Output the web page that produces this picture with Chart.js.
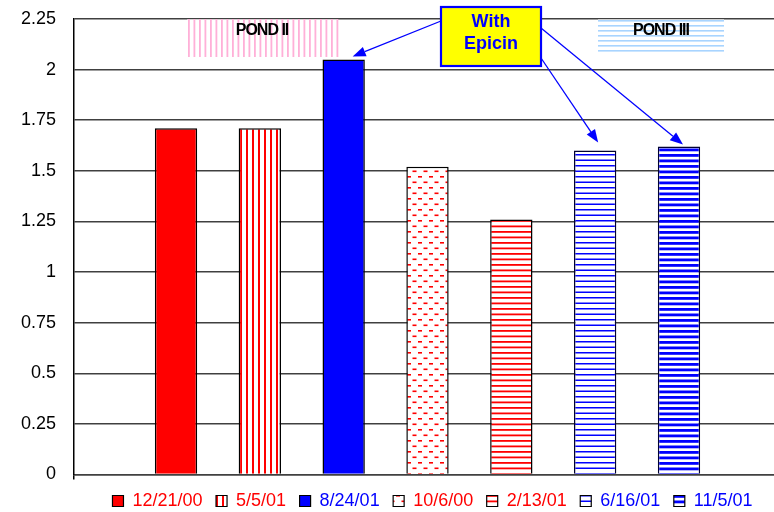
<!DOCTYPE html>
<html>
<head>
<meta charset="utf-8">
<script src="https://cdn.jsdelivr.net/npm/chart.js@4/dist/chart.umd.min.js"></script>
<style>
  html, body { margin: 0; padding: 0; background: #fff; overflow: hidden; }
  #wrap { width: 774px; height: 512px; overflow: hidden; }
  canvas { display: block; }
</style>
</head>
<body>
<div id="wrap"><canvas id="c" width="790" height="512"></canvas></div>
<script>
// Sampling dates (one bar each) and the measured values
const dates = ['12/21/00', '5/5/01', '8/24/01', '10/6/00', '2/13/01', '6/16/01', '11/5/01'];
const values = [1.71, 1.71, 2.05, 1.52, 1.26, 1.60, 1.62];
const yTicks = [0, 0.25, 0.5, 0.75, 1, 1.25, 1.5, 1.75, 2, 2.25];
const yTickLabels = ['0', '0.25', '0.5', '0.75', '1', '1.25', '1.5', '1.75', '2', '2.25'];
const epicinBars = [2, 5, 6];

const canvas = document.getElementById('c');
const ctx = canvas.getContext('2d');
const FONT = '"Liberation Sans", Arial, sans-serif';

function tile(w, h, draw) {
  const c = document.createElement('canvas');
  c.width = w; c.height = h;
  const g = c.getContext('2d');
  g.fillStyle = '#fff';
  g.fillRect(0, 0, w, h);
  draw(g);
  return ctx.createPattern(c, 'repeat');
}

const RED = '#ff0000', BLUE = '#0000ff';
const fills = [
  RED,
  tile(6, 4, g => { g.fillStyle = RED; g.fillRect(0, 0, 2, 4); }),
  BLUE,
  tile(11, 11, g => { g.fillStyle = RED; g.fillRect(0, 0, 4, 1.6); g.fillRect(5.5, 5.5, 4, 1.6); }),
  tile(4, 11, g => { g.fillStyle = RED; g.fillRect(0, 0, 4, 1.8); g.fillRect(0, 5.5, 4, 1.8); }),
  tile(4, 11, g => { g.fillStyle = BLUE; g.fillRect(0, 0, 4, 1.5); g.fillRect(0, 5.5, 4, 1.5); }),
  tile(4, 11, g => { g.fillStyle = BLUE; g.fillRect(0, 0, 4, 2.8); g.fillRect(0, 5.5, 4, 2.8); })
];
const textColors = [RED, RED, BLUE, RED, RED, BLUE, BLUE];
const borders = ['#000', '#000', '#000', '#000', '#000', '#000033', '#000033'];

function stripedBox(c, b) {
  c.save();
  c.fillStyle = 'rgba(255,255,255,0.55)';
  c.fillRect(b.left, b.top, b.right - b.left, b.bottom - b.top);
  c.fillStyle = b.stripe;
  if (b.vertical) {
    for (let x = b.left + 1; x < b.right; x += 5.5) c.fillRect(x, b.top, 1.8, b.bottom - b.top);
  } else {
    for (let y = b.top + 1; y < b.bottom; y += 5) c.fillRect(b.left, y, b.right - b.left, 1.6);
  }
  c.fillStyle = '#000';
  c.font = 'bold 16px ' + FONT;
  c.letterSpacing = '-1px';
  c.textAlign = 'center';
  c.textBaseline = 'middle';
  c.fillText(b.text, b.tx, b.ty);
  c.restore();
}

function arrow(c, x1, y1, x2, y2) {
  const a = Math.atan2(y2 - y1, x2 - x1);
  const len = 13, half = 5;
  const bx = x2 - len * Math.cos(a), by = y2 - len * Math.sin(a);
  c.beginPath();
  c.moveTo(x1, y1);
  c.lineTo(bx, by);
  c.stroke();
  c.beginPath();
  c.moveTo(x2, y2);
  c.lineTo(bx + half * Math.sin(a), by - half * Math.cos(a));
  c.lineTo(bx - half * Math.sin(a), by + half * Math.cos(a));
  c.closePath();
  c.fill();
}

const notesPlugin = {
  id: 'notes',
  afterDatasetsDraw(chart, args, opts) {
    const c = chart.ctx;
    opts.ponds.forEach(p => stripedBox(c, p));
    const e = opts.epicin;
    c.save();
    c.strokeStyle = BLUE;
    c.fillStyle = BLUE;
    c.lineWidth = 1.3;
    e.arrows.forEach(ar => {
      const bar = chart.getDatasetMeta(ar.bar).data[0];
      arrow(c, ar.fromX, ar.fromY, bar.x + ar.dx, bar.y + ar.dy);
    });
    c.fillStyle = '#ffff00';
    c.fillRect(e.left, e.top, e.right - e.left, e.bottom - e.top);
    c.lineWidth = 2.2;
    c.strokeRect(e.left, e.top, e.right - e.left, e.bottom - e.top);
    c.fillStyle = BLUE;
    c.font = 'bold 18px ' + FONT;
    c.textAlign = 'center';
    c.textBaseline = 'middle';
    const cx = (e.left + e.right) / 2;
    c.fillText('With', cx, e.top + 15);
    c.fillText('Epicin', cx, e.top + 37.5);
    c.restore();
  }
};

const legendShift = {
  id: 'legendShift',
  afterLayout(chart) {
    chart.legend.left += 5;
    chart.legend.right += 5;
  }
};

new Chart(ctx, {
  type: 'bar',
  data: {
    labels: [''],
    datasets: dates.map((d, i) => ({
      label: d,
      data: [values[i]],
      backgroundColor: fills[i],
      borderColor: borders[i],
      borderWidth: 1.5,
      borderSkipped: 'start'
    }))
  },
  options: {
    responsive: false,
    animation: false,
    devicePixelRatio: 1,
    categoryPercentage: 0.83,
    barPercentage: 0.505,
    layout: { padding: { left: 0, right: 9, top: 19, bottom: -8 } },
    scales: {
      x: {
        afterFit(scale) { scale.height = 4; },
        ticks: { display: false },
        grid: { drawOnChartArea: false, drawTicks: true, tickLength: 5, color: '#000', lineWidth: 1.5 },
        border: { display: true, color: '#404040', width: 1.5 }
      },
      y: {
        min: 0,
        max: 2.25,
        afterBuildTicks(scale) { scale.ticks = yTicks.map(v => ({ value: v })); },
        afterFit(scale) {
          scale.width = 74;
          scale.paddingTop = 0;
          scale.paddingBottom = 0;
        },
        ticks: {
          padding: 18,
          color: '#000',
          font: { family: FONT, size: 18 },
          callback: (v) => yTickLabels[yTicks.indexOf(v)]
        },
        grid: { color: '#404040', lineWidth: 1.5, drawTicks: false },
        border: { display: true, color: '#000', width: 1.5 }
      }
    },
    plugins: {
      tooltip: { enabled: false },
      legend: {
        position: 'bottom',
        fullSize: false,
        labels: {
          boxWidth: 11,
          boxHeight: 11,
          padding: 13.5,
          font: { family: FONT, size: 18 },
          generateLabels(chart) {
            return chart.data.datasets.map((ds, i) => ({
              text: ds.label,
              fillStyle: fills[i],
              strokeStyle: '#000',
              lineWidth: 1.2,
              fontColor: textColors[i],
              datasetIndex: i,
              hidden: false
            }));
          }
        }
      },
      notes: {
        ponds: [
          { text: 'POND II', left: 187, top: 19, right: 337, bottom: 57, vertical: true, stripe: '#ffb0d8', tx: 262, ty: 31 },
          { text: 'POND III', left: 598, top: 19, right: 724, bottom: 53, vertical: false, stripe: '#a8d4ff', tx: 661, ty: 31 }
        ],
        epicin: {
          left: 441, top: 7, right: 541, bottom: 66,
          arrows: [
            { bar: epicinBars[0], fromX: 441, fromY: 21, dx: 9, dy: -3 },
            { bar: epicinBars[1], fromX: 541, fromY: 58, dx: 3, dy: -8 },
            { bar: epicinBars[2], fromX: 541, fromY: 28, dx: 4, dy: -2 }
          ]
        }
      }
    }
  },
  plugins: [notesPlugin, legendShift]
});
</script>
</body>
</html>
